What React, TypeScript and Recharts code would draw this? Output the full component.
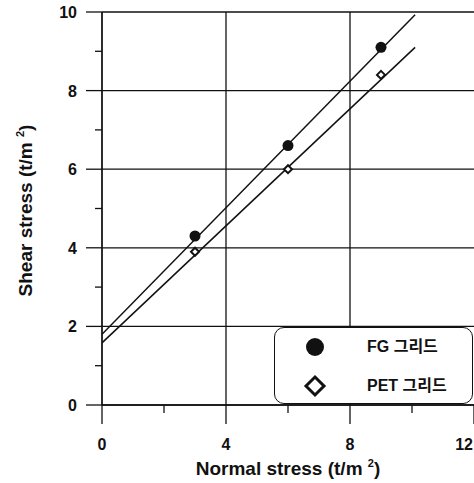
import React from 'react';
import {
  CartesianGrid,
  ComposedChart,
  Label,
  Legend,
  Line,
  Scatter,
  XAxis,
  YAxis,
} from 'recharts';

// measured points
const normalStress = [3, 6, 9];
const fgShear = [4.3, 6.6, 9.1];
const petShear = [3.9, 6.0, 8.4];

// fitted lines (end points)
const fitStress = [0, 10.1];
const fgFit = [1.8, 9.93];
const petFit = [1.58, 9.1];

// axis ticks
const xMajor = [0, 4, 8, 12];
const xMinor = [2, 6, 10];
const xGrid = [0, 4, 8];
const yMajor = [0, 2, 4, 6, 8, 10];
const yMinor = [1, 3, 5, 7, 9];

const FONT = '"Liberation Sans", Arial, "Noto Sans CJK KR", sans-serif';

const toPoints = (xs: number[], ys: number[]) => xs.map((x, i) => ({ x, y: ys[i] }));

const fgPoints = toPoints(normalStress, fgShear);
const petPoints = toPoints(normalStress, petShear);
const fgLine = toPoints(fitStress, fgFit);
const petLine = toPoints(fitStress, petFit);

const xTicks = [...xMajor, ...xMinor].sort((a, b) => a - b);
const yTicks = [...yMajor, ...yMinor].sort((a, b) => a - b);

const XTick = (props: any) => {
  const { x, y, payload } = props;
  const major = xMajor.includes(payload.value);
  // last label sits on the page edge, keep it inside
  const last = payload.value === xMajor[xMajor.length - 1];
  return (
    <g>
      <line x1={x} x2={x} y1={y} y2={y + (major ? 19 : 8)} stroke="#111" strokeWidth={1.3} />
      {major && (
        <text
          x={last ? x - 1 : x}
          y={y + 45}
          textAnchor={last ? 'end' : 'middle'}
          fontFamily={FONT}
          fontWeight="bold"
          fontSize={16}
          fill="#111"
        >
          {payload.value}
        </text>
      )}
    </g>
  );
};

const YTick = (props: any) => {
  const { x, y, payload } = props;
  const major = yMajor.includes(payload.value);
  return (
    <g>
      <line x1={x - (major ? 16 : 7)} x2={x} y1={y} y2={y} stroke="#111" strokeWidth={1.3} />
      {major && (
        <text x={x - 25} y={y + 6} textAnchor="end" fontFamily={FONT} fontWeight="bold" fontSize={16} fill="#111">
          {payload.value}
        </text>
      )}
    </g>
  );
};

const Dot = (props: any) => <circle cx={props.cx} cy={props.cy} r={5.5} fill="#111" />;

const Diamond = (props: any) => {
  const { cx, cy } = props;
  const s = 4;
  return (
    <polygon
      points={`${cx},${cy - s} ${cx + s},${cy} ${cx},${cy + s} ${cx - s},${cy}`}
      fill="#fff"
      stroke="#111"
      strokeWidth={2}
    />
  );
};

const LegendBox = ({ payload }: any) => {
  const items = (payload || []).filter((p: any) => p.type !== 'none');
  return (
    <div
      style={{
        position: 'relative',
        width: 199,
        height: 77,
        boxSizing: 'border-box',
        border: '1.5px solid #111',
        borderRadius: 10,
        background: '#fff',
        fontFamily: FONT,
        fontWeight: 'bold',
        fontSize: 16,
        color: '#111',
      }}
    >
      {items.map((item: any, i: number) => (
        <div key={item.value} style={{ position: 'absolute', left: 0, top: 19 + i * 39 - 10, height: 20, width: '100%' }}>
          <svg width={30} height={24} style={{ position: 'absolute', left: 25, top: -2 }}>
            {i === 0 ? (
              <circle cx={15} cy={12} r={9} fill="#111" />
            ) : (
              <polygon points="15,3 24,12 15,21 6,12" fill="#fff" stroke="#111" strokeWidth={3} />
            )}
          </svg>
          <span style={{ position: 'absolute', left: 92, top: 0, lineHeight: '20px', whiteSpace: 'nowrap' }}>
            {item.value}
          </span>
        </div>
      ))}
    </div>
  );
};

const YTitle = (props: any) => {
  const { x, y, height } = props.viewBox;
  const cx = x + 25;
  const cy = y + height / 2 + 2;
  return (
    <text
      x={cx}
      y={cy}
      transform={`rotate(-90, ${cx}, ${cy})`}
      textAnchor="middle"
      dy={7}
      fontFamily={FONT}
      fontWeight="bold"
      fontSize={19}
      fill="#111"
    >
      Shear stress (t/m <tspan dy={-8} fontSize={11}>2</tspan>
      <tspan dy={8}>)</tspan>
    </text>
  );
};

const XTitle = (props: any) => {
  const { x, y, width } = props.viewBox;
  return (
    <text
      x={x + width / 2}
      y={y + 70}
      textAnchor="middle"
      fontFamily={FONT}
      fontWeight="bold"
      fontSize={19}
      fill="#111"
    >
      Normal stress (t/m <tspan dy={-8} fontSize={11}>2</tspan>
      <tspan dy={8}>)</tspan>
    </text>
  );
};

export default function App() {
  return (
    <div style={{ position: 'absolute', left: 0, top: 0, background: '#fff' }}>
      <ComposedChart width={474} height={483} margin={{ top: 12, right: 0, bottom: 28, left: 0 }}>
        <CartesianGrid
          stroke="#111"
          strokeWidth={1.3}
          horizontalValues={yMajor}
          verticalValues={xGrid}
        />
        <XAxis
          type="number"
          dataKey="x"
          domain={[0, 12]}
          ticks={xTicks}
          interval={0}
          height={50}
          tickSize={0}
          tickMargin={0}
          tickLine={false}
          tick={(p: any) => <XTick {...p} />}
          axisLine={{ stroke: '#111', strokeWidth: 1.3 }}
          allowDataOverflow
        >
          <Label content={<XTitle />} />
        </XAxis>
        <YAxis
          type="number"
          dataKey="y"
          domain={[0, 10]}
          ticks={yTicks}
          interval={0}
          width={102}
          tickSize={0}
          tickMargin={0}
          tickLine={false}
          tick={(p: any) => <YTick {...p} />}
          axisLine={{ stroke: '#111', strokeWidth: 1.3 }}
          allowDataOverflow
        >
          <Label content={<YTitle />} />
        </YAxis>
        <Line
          data={fgLine}
          dataKey="y"
          type="linear"
          stroke="#111"
          strokeWidth={1.5}
          dot={false}
          activeDot={false}
          legendType="none"
          isAnimationActive={false}
        />
        <Line
          data={petLine}
          dataKey="y"
          type="linear"
          stroke="#111"
          strokeWidth={1.5}
          dot={false}
          activeDot={false}
          legendType="none"
          isAnimationActive={false}
        />
        <Scatter name="FG 그리드" data={fgPoints} dataKey="y" shape={Dot} isAnimationActive={false} />
        <Scatter name="PET 그리드" data={petPoints} dataKey="y" shape={Diamond} isAnimationActive={false} />
        <Legend
          layout="vertical"
          align="center"
          verticalAlign="middle"
          content={<LegendBox />}
          wrapperStyle={{ left: 274, top: 327, width: 199, height: 77 }}
        />
      </ComposedChart>
    </div>
  );
}
